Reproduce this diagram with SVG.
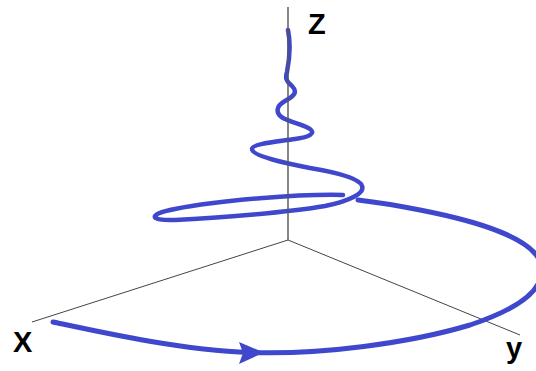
<svg xmlns="http://www.w3.org/2000/svg" width="536" height="371" viewBox="0 0 536 371">
<style>
.axis{stroke:#444;stroke-width:1;fill:none}
.zaxis{stroke:#555;stroke-width:1.4;fill:none}
.spiral{stroke:#3f48cc;fill:none;stroke-linecap:round;stroke-linejoin:round}
.lbl{font-family:"Liberation Sans",Arial,sans-serif;font-weight:bold;font-size:29px;fill:#000}
</style>
<rect width="536" height="371" fill="#fff"/>
<g id="connectors">
<path id="x-axis" class="axis" d="M288,240 L32,322"/>
<path id="y-axis" class="axis" d="M288,240 L520,335"/>
<path id="spiral-lower" class="spiral" stroke-width="5" d="M53,322 C100,332 180,350 250,352.5 C320,355 410,343 470,325 C512,311 547,292 541,265 C536,240 482,222 420,210 C395,205 375,202 358,200"/>
<path id="spiral-upper" class="spiral" stroke-width="4.5" d="M343,195 C300,194 220,200 175,209 C148,214 148,221 175,220 C220,218 290,212 325,206 C350,201 365,193 362,186 C360,179 340,173 310,168 C285,163 252,156 252,149 C252,144 275,142 295,139 C310,137 316,133 310,129 C305,125 290,122 283,118 C275,113 276,106 285,101 C292,97 299,93 292,86 C286,81 285,78 287,72 C289,62 291,45 288,30"/>
<polygon id="arrowhead" fill="#3f48cc" points="239,342 264,352.5 239,364 243,353"/>
<path id="z-axis" class="zaxis" d="M288,7 L288,240"/>
</g>
<g id="label-z"><text class="lbl" x="308" y="34">Z</text></g>
<g id="label-x"><text class="lbl" x="13" y="352">X</text></g>
<g id="label-y"><text class="lbl" x="506" y="358">y</text></g>
</svg>
